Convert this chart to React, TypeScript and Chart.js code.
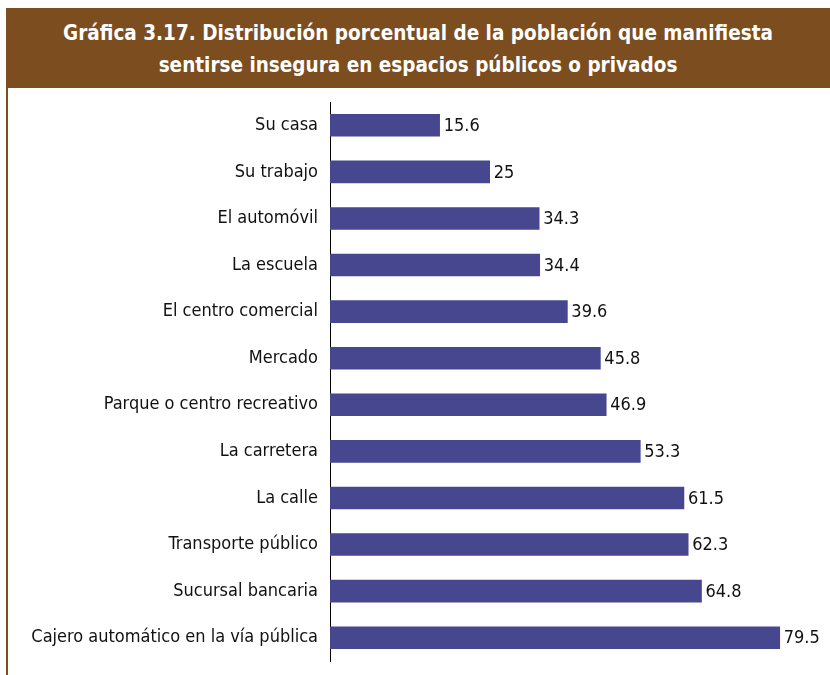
import React, { useEffect, useRef } from "react";
import { Chart, registerables } from "chart.js";

Chart.register(...registerables);

const categories = [
  "Su casa",
  "Su trabajo",
  "El automóvil",
  "La escuela",
  "El centro comercial",
  "Mercado",
  "Parque o centro recreativo",
  "La carretera",
  "La calle",
  "Transporte público",
  "Sucursal bancaria",
  "Cajero automático en la vía pública",
];

const values = [15.6, 25, 34.3, 34.4, 39.6, 45.8, 46.9, 53.3, 61.5, 62.3, 64.8, 79.5];
const valueLabels = ["15.6", "25", "34.3", "34.4", "39.6", "45.8", "46.9", "53.3", "61.5", "62.3", "64.8", "79.5"];

const titleLines = [
  "Gráfica 3.17. Distribución porcentual de la población que manifiesta",
  "sentirse insegura en espacios públicos o privados",
];

const BROWN = "#7B4D1F";
const BAR = "#474790";
const FONT = "'Liberation Sans Narrow', 'Arial Narrow', 'DejaVu Sans Condensed', sans-serif";

const valueLabelPlugin = {
  id: "valueLabels",
  afterDatasetsDraw(chart: any) {
    const ctx = chart.ctx;
    const meta = chart.getDatasetMeta(0);
    ctx.save();
    ctx.font = `18px ${FONT}`;
    ctx.fillStyle = "#111";
    ctx.textAlign = "left";
    ctx.textBaseline = "middle";
    meta.data.forEach((bar: any, i: number) => {
      ctx.fillText(valueLabels[i], bar.x + 4, bar.y + 1);
    });
    ctx.restore();
  },
};

export default function App() {
  const canvasRef = useRef<HTMLCanvasElement | null>(null);

  useEffect(() => {
    if (!canvasRef.current) return;
    const chart = new Chart(canvasRef.current, {
      type: "bar",
      data: {
        labels: categories,
        datasets: [
          {
            data: values,
            backgroundColor: BAR,
            borderWidth: 0,
            barThickness: 22,
            base: -5,
          } as any,
        ],
      },
      plugins: [valueLabelPlugin],
      options: {
        indexAxis: "y",
        animation: false,
        responsive: false,
        maintainAspectRatio: false,
        layout: { padding: { top: 14, bottom: 14, right: 21, left: 0 } },
        plugins: {
          legend: { display: false },
          title: { display: false },
          tooltip: { enabled: false },
        },
        scales: {
          x: {
            type: "linear",
            min: -5,
            max: 85,
            display: false,
          },
          y: {
            type: "category",
            grid: { display: false, drawTicks: false },
            border: { display: true, color: "#000", width: 1 },
            ticks: {
              color: "#111",
              padding: 12,
              font: { family: FONT, size: 18 },
            },
            afterFit(scale: any) {
              scale.width = 322;
              scale.paddingTop = 0;
              scale.paddingBottom = 0;
            },
          },
        },
      },
    });
    return () => chart.destroy();
  }, []);

  return (
    <div
      style={{
        position: "fixed",
        left: 6,
        top: 8,
        width: 824,
        height: 667,
        background: "#fff",
      }}
    >
      <div
        style={{
          height: 80,
          background: BROWN,
          color: "#fff",
          fontFamily: FONT,
          fontWeight: "bold",
          fontSize: 20.5,
          lineHeight: "32px",
          textAlign: "center",
          paddingTop: 9,
          boxSizing: "border-box",
        }}
      >
        {titleLines.map((l, i) => (
          <div key={i}>{l}</div>
        ))}
      </div>
      <div style={{ borderLeft: `2px solid ${BROWN}`, height: 587 }}>
        <canvas ref={canvasRef} width={822} height={587} style={{ display: "block" }} />
      </div>
    </div>
  );
}
